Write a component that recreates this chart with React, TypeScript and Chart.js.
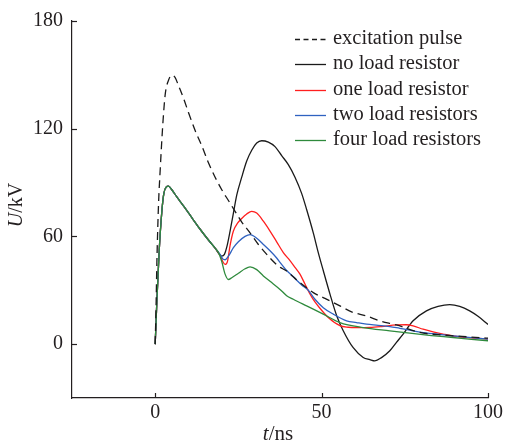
import React, { useEffect, useRef } from 'react';
import { Chart, registerables } from 'chart.js';

Chart.register(...registerables);

const xTicks = [0, 50, 100];
const yTicks = [0, 60, 120, 180];

const seriesLabels = [
  'excitation pulse',
  'no load resistor',
  'one load resistor',
  'two load resistors',
  'four load resistors',
];
const seriesColors = ['#1a1a1a', '#1a1a1a', '#ff1f1f', '#2f62c0', '#2e8a3c'];
const drawOrder = [0, 4, 3, 2, 1];

const pulseT = [0, 0.3, 0.5, 1, 1.5, 2.2, 3, 4, 5, 6, 7, 8.5, 10, 12, 14, 16, 18, 20, 22, 24, 26, 28.5, 31, 34.5, 37, 39.5, 43, 47.5, 51, 55.5, 59, 63.5, 67.5, 72.5, 79.5, 87, 94.5, 100];
const pulseU = [0, 25, 45, 78, 97, 120, 139, 147, 149.8, 148.5, 144, 137, 129, 119, 110.5, 101, 93, 86, 80, 74, 68, 62, 55.5, 48, 43.5, 40.7, 35, 28.7, 25.5, 21.3, 18, 15.7, 13, 10.7, 6.5, 5, 4, 3.3];

const noLoadT = [0, 0.5, 1.2, 2, 2.6, 3.3, 4, 5, 6.5, 8.5, 11, 13.5, 16, 18, 19.3, 20, 20.8, 21.5, 22.5, 23.5, 24.5, 26, 27.5, 29, 30.5, 32, 34, 36, 38, 40, 42, 44, 45.5, 47.5, 49, 50.5, 52.5, 54.5, 56.5, 59.5, 62.5, 64.5, 66, 68, 70.5, 72.5, 74.5, 77.5, 81.5, 85, 88.5, 91.5, 94.5, 97, 100];
const noLoadU = [0, 24, 52, 74, 84, 87.5, 88, 86, 82, 77, 70.5, 64, 58, 53.5, 50, 49, 50, 54, 63, 73, 83, 93, 102, 108, 112, 113.3, 112.5, 110, 105, 100, 93, 84, 75, 62, 51, 41, 28, 16, 7.5, -2, -7.4, -8.6, -9.3, -7.5, -3.7, 1, 5.6, 13, 18.5, 21, 22, 21, 18.5, 15.5, 11];

const oneLoadT = [0, 0.5, 1.2, 2, 2.6, 3.3, 4, 5, 6.5, 8.5, 11, 13.5, 16, 18, 19.5, 20.3, 21, 21.7, 22.5, 23.5, 24.8, 26, 27.5, 29, 30.5, 32.5, 34.5, 36.5, 38.5, 40.5, 42, 43.5, 45, 46.5, 48, 49.5, 52, 55.5, 58, 60.5, 64.5, 68, 72.5, 75.5, 77.5, 80.5, 83.5, 86.5, 90, 95, 100];
const oneLoadU = [0, 24, 52, 74, 84, 87.5, 88, 86, 82, 77, 70.5, 64, 58, 53.5, 49.5, 46, 44.4, 46, 55, 63, 67.5, 70, 72.5, 74, 73, 68.5, 63, 57, 51, 46.5, 42.8, 39, 33.5, 28, 23.5, 20, 14.8, 10.3, 9.4, 9.2, 9.3, 9.8, 10.7, 10.8, 10.2, 8.3, 6.8, 5.6, 4.4, 3.5, 2.8];

const twoLoadT = [0, 0.5, 1.2, 2, 2.6, 3.3, 4, 5, 6.5, 8.5, 11, 13.5, 16, 18, 19.5, 20.3, 21, 22, 23.5, 25, 27, 28.5, 30.5, 32.5, 34.5, 36.5, 37.5, 39.5, 41.5, 44, 46, 48, 50.5, 53.5, 57.5, 60.5, 63.5, 67, 70.5, 73.5, 76.5, 80, 85, 89.5, 95, 100];
const twoLoadU = [0, 24, 52, 74, 84, 87.5, 88, 86, 82, 77, 70.5, 64, 58, 53.5, 50, 47.5, 47, 49, 53.7, 57, 60, 61, 59, 55.5, 52, 48, 45.5, 41, 37.5, 33, 30, 25, 20.3, 16.7, 13, 12, 11.1, 10.5, 9.8, 8.8, 7.8, 6.5, 5.5, 4.6, 3.6, 2.8];

const fourLoadT = [0, 0.5, 1.2, 2, 2.6, 3.3, 4, 5, 6.5, 8.5, 11, 13.5, 16, 18, 19, 20, 21, 22, 23, 25, 27, 28.5, 30.5, 32.5, 34.5, 37.5, 39.5, 41.5, 45.5, 50.5, 55.5, 62.5, 70.5, 76.5, 83, 89.5, 95, 100];
const fourLoadU = [0, 24, 52, 74, 84, 87.5, 88, 86, 82, 77, 70.5, 64, 58, 53.5, 51, 46, 39, 36, 37, 39.5, 42, 43, 41.5, 38, 35, 30.5, 27, 25, 21.3, 16.7, 12, 9.2, 7.4, 6.1, 4.8, 3.7, 2.7, 1.9];

const seriesT = [pulseT, noLoadT, oneLoadT, twoLoadT, fourLoadT];
const seriesU = [pulseU, noLoadU, oneLoadU, twoLoadU, fourLoadU];

const FONT = 'Liberation Serif';
const INK = '#231f20';

function drawMixed(ctx: CanvasRenderingContext2D, parts: [string, boolean][], size: number) {
  let total = 0;
  const widths = parts.map(([txt, it]) => {
    ctx.font = `${it ? 'italic ' : ''}${size}px "${FONT}"`;
    const w = ctx.measureText(txt).width;
    total += w;
    return w;
  });
  let x = -total / 2;
  parts.forEach(([txt, it], i) => {
    ctx.font = `${it ? 'italic ' : ''}${size}px "${FONT}"`;
    ctx.fillText(txt, x, 0);
    x += widths[i];
  });
}

const decorPlugin = {
  id: 'decor',
  afterDraw(chart: any) {
    const ctx: CanvasRenderingContext2D = chart.ctx;
    const xs = chart.scales.x;
    const ys = chart.scales.y;
    const area = chart.chartArea;
    ctx.save();
    ctx.strokeStyle = INK;
    ctx.lineWidth = 1.2;
    ctx.setLineDash([]);
    xTicks.forEach((v) => {
      const px = Math.round(xs.getPixelForValue(v)) + 0.5;
      ctx.beginPath();
      ctx.moveTo(px, area.bottom);
      ctx.lineTo(px, area.bottom - 5);
      ctx.stroke();
    });
    yTicks.forEach((v) => {
      const py = Math.round(ys.getPixelForValue(v)) + 0.5;
      ctx.beginPath();
      ctx.moveTo(area.left, py);
      ctx.lineTo(area.left + 5, py);
      ctx.stroke();
    });
    ctx.fillStyle = INK;
    ctx.textBaseline = 'middle';
    ctx.textAlign = 'left';
    ctx.save();
    ctx.translate(17, 205);
    ctx.rotate(-Math.PI / 2);
    drawMixed(ctx, [['U', true], ['/kV', false]], 20);
    ctx.restore();
    ctx.save();
    ctx.translate(278, 434);
    drawMixed(ctx, [['t', true], ['/ns', false]], 21);
    ctx.restore();
    const rows = [39, 64, 90, 115, 140];
    chart.data.datasets.forEach((ds: any, i: number) => {
      const y = rows[i] + 0.5;
      ctx.strokeStyle = ds.borderColor;
      ctx.lineWidth = 1.3;
      ctx.setLineDash(i === 0 ? [5, 3.5] : []);
      ctx.beginPath();
      ctx.moveTo(295, y);
      ctx.lineTo(326, y);
      ctx.stroke();
      ctx.setLineDash([]);
      ctx.fillStyle = INK;
      ctx.font = `20.5px "${FONT}"`;
      ctx.textBaseline = 'middle';
      ctx.fillText(ds.label, 333, rows[i]);
    });
    ctx.restore();
  },
};

export default function App() {
  const ref = useRef<HTMLCanvasElement | null>(null);
  useEffect(() => {
    if (!ref.current) return;
    const datasets = seriesLabels.map((label, i) => ({
      label,
      data: seriesT[i].map((t, j) => ({ x: t, y: seriesU[i][j] })),
      borderColor: seriesColors[i],
      backgroundColor: seriesColors[i],
      borderWidth: 1.3,
      borderDash: i === 0 ? [8, 5] : [],
      pointRadius: 0,
      fill: false,
      order: drawOrder[i],
      cubicInterpolationMode: 'monotone' as const,
    }));
    const chart = new Chart(ref.current, {
      type: 'line',
      data: { datasets },
      options: {
        animation: false,
        responsive: false,
        devicePixelRatio: 1,
        layout: { padding: { top: 19, right: 19, left: 0, bottom: 0 } },
        plugins: { legend: { display: false }, tooltip: { enabled: false } },
        scales: {
          x: {
            type: 'linear',
            min: -25,
            max: 100,
            afterBuildTicks: (s: any) => {
              s.ticks = xTicks.map((v) => ({ value: v }));
            },
            afterFit: (s: any) => {
              s.height = 48;
            },
            grid: { display: true, drawOnChartArea: false, drawTicks: false },
            border: { display: true, color: INK, width: 1.2 },
            ticks: {
              font: { family: FONT, size: 20 },
              color: INK,
              padding: 3,
              maxRotation: 0,
              autoSkip: false,
            },
          },
          y: {
            type: 'linear',
            min: -30,
            max: 180,
            afterBuildTicks: (s: any) => {
              s.ticks = yTicks.map((v) => ({ value: v }));
            },
            afterFit: (s: any) => {
              s.width = 72;
            },
            grid: { display: true, drawOnChartArea: false, drawTicks: false },
            border: { display: true, color: INK, width: 1.2 },
            ticks: {
              font: { family: FONT, size: 20 },
              color: INK,
              padding: 9,
              autoSkip: false,
            },
          },
        },
      },
      plugins: [decorPlugin],
    });
    return () => chart.destroy();
  }, []);
  return (
    <div style={{ position: 'fixed', left: 0, top: 0, width: 507, height: 446, background: '#fff' }}>
      <canvas ref={ref} width={507} height={446} style={{ width: 507, height: 446, display: 'block' }} />
    </div>
  );
}
